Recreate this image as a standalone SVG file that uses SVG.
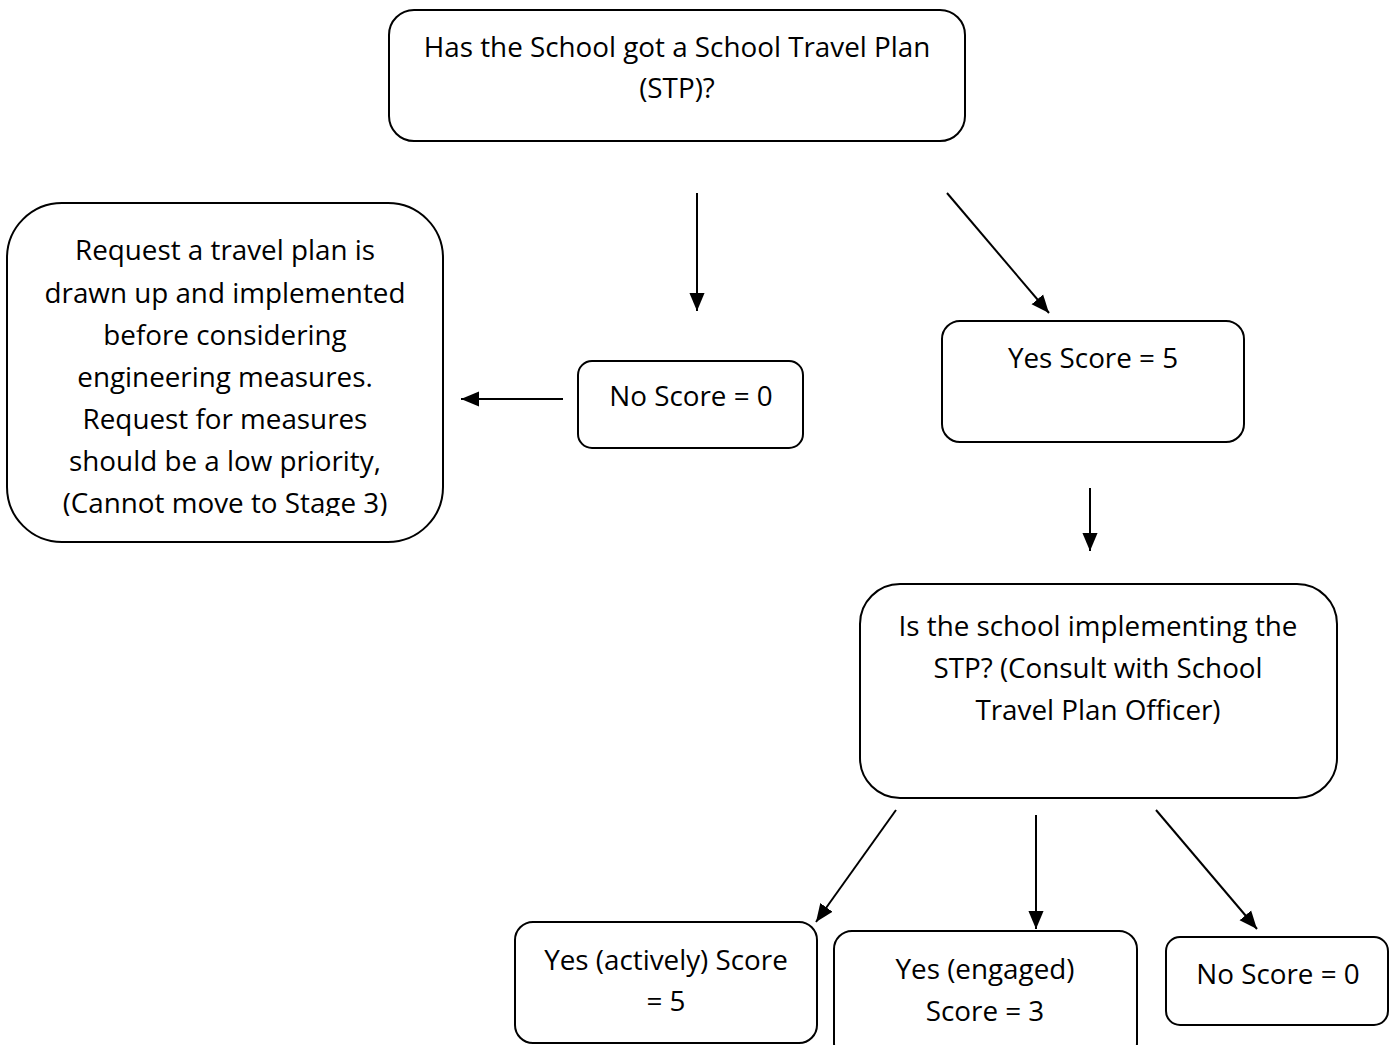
<svg xmlns="http://www.w3.org/2000/svg" width="1398" height="1045" viewBox="0 0 1398 1045">
<style>
.box{fill:#fff;stroke:#000;stroke-width:2}
.t{font-family:"Open Sans","Liberation Sans",sans-serif;font-size:27.8px;fill:#000;text-anchor:middle}
.c{stroke:#000;stroke-width:2;fill:none;marker-end:url(#ah)}
</style>
<defs>
<marker id="ah" viewBox="0 0 10 10" refX="10" refY="5" markerWidth="9" markerHeight="9" markerUnits="strokeWidth" orient="auto">
<path d="M0,0.8 L10,5 L0,9.2 z" fill="#000"/>
</marker>
<clipPath id="clipL"><rect x="0" y="200" width="460" height="316"/></clipPath>
</defs>
<rect width="1398" height="1045" fill="#fff"/>
<g id="connectors">
<line class="c" x1="697" y1="193" x2="697" y2="311"/>
<line class="c" x1="947" y1="193" x2="1049" y2="313"/>
<line class="c" x1="563" y1="399" x2="461" y2="399"/>
<line class="c" x1="1090" y1="488" x2="1090" y2="551"/>
<line class="c" x1="896" y1="810" x2="816" y2="922"/>
<line class="c" x1="1036" y1="815" x2="1036" y2="929"/>
<line class="c" x1="1156" y1="810" x2="1257" y2="929"/>
</g>
<g id="n-stp">
<rect class="box" x="389" y="10" width="576" height="131" rx="25"/>
<text class="t" x="677" y="57">Has the School got a School Travel Plan</text>
<text class="t" x="677" y="98">(STP)?</text>
</g>
<g id="n-request">
<rect class="box" x="7" y="203" width="436" height="339" rx="55"/>
<g clip-path="url(#clipL)">
<text class="t" x="225" y="260">Request a travel plan is</text>
<text class="t" x="225" y="303">drawn up and implemented</text>
<text class="t" x="225" y="345">before considering</text>
<text class="t" x="225" y="387">engineering measures.</text>
<text class="t" x="225" y="429">Request for measures</text>
<text class="t" x="225" y="471">should be a low priority,</text>
<text class="t" x="225" y="513">(Cannot move to Stage 3)</text>
</g>
</g>
<g id="n-no1">
<rect class="box" x="578" y="361" width="225" height="87" rx="14"/>
<text class="t" x="691" y="406">No Score = 0</text>
</g>
<g id="n-yes1">
<rect class="box" x="942" y="321" width="302" height="121" rx="18"/>
<text class="t" x="1093" y="368">Yes Score = 5</text>
</g>
<g id="n-implementing">
<rect class="box" x="860" y="584" width="477" height="214" rx="40"/>
<text class="t" x="1098" y="636">Is the school implementing the</text>
<text class="t" x="1098" y="678">STP? (Consult with School</text>
<text class="t" x="1098" y="720">Travel Plan Officer)</text>
</g>
<g id="n-actively">
<rect class="box" x="515" y="922" width="302" height="121" rx="18"/>
<text class="t" x="666" y="970">Yes (actively) Score</text>
<text class="t" x="666" y="1011">= 5</text>
</g>
<g id="n-engaged">
<rect class="box" x="834" y="931" width="303" height="130" rx="18"/>
<text class="t" x="985" y="979">Yes (engaged)</text>
<text class="t" x="985" y="1021">Score = 3</text>
</g>
<g id="n-no2">
<rect class="box" x="1166" y="937" width="222" height="88" rx="14"/>
<text class="t" x="1278" y="984">No Score = 0</text>
</g>
</svg>
